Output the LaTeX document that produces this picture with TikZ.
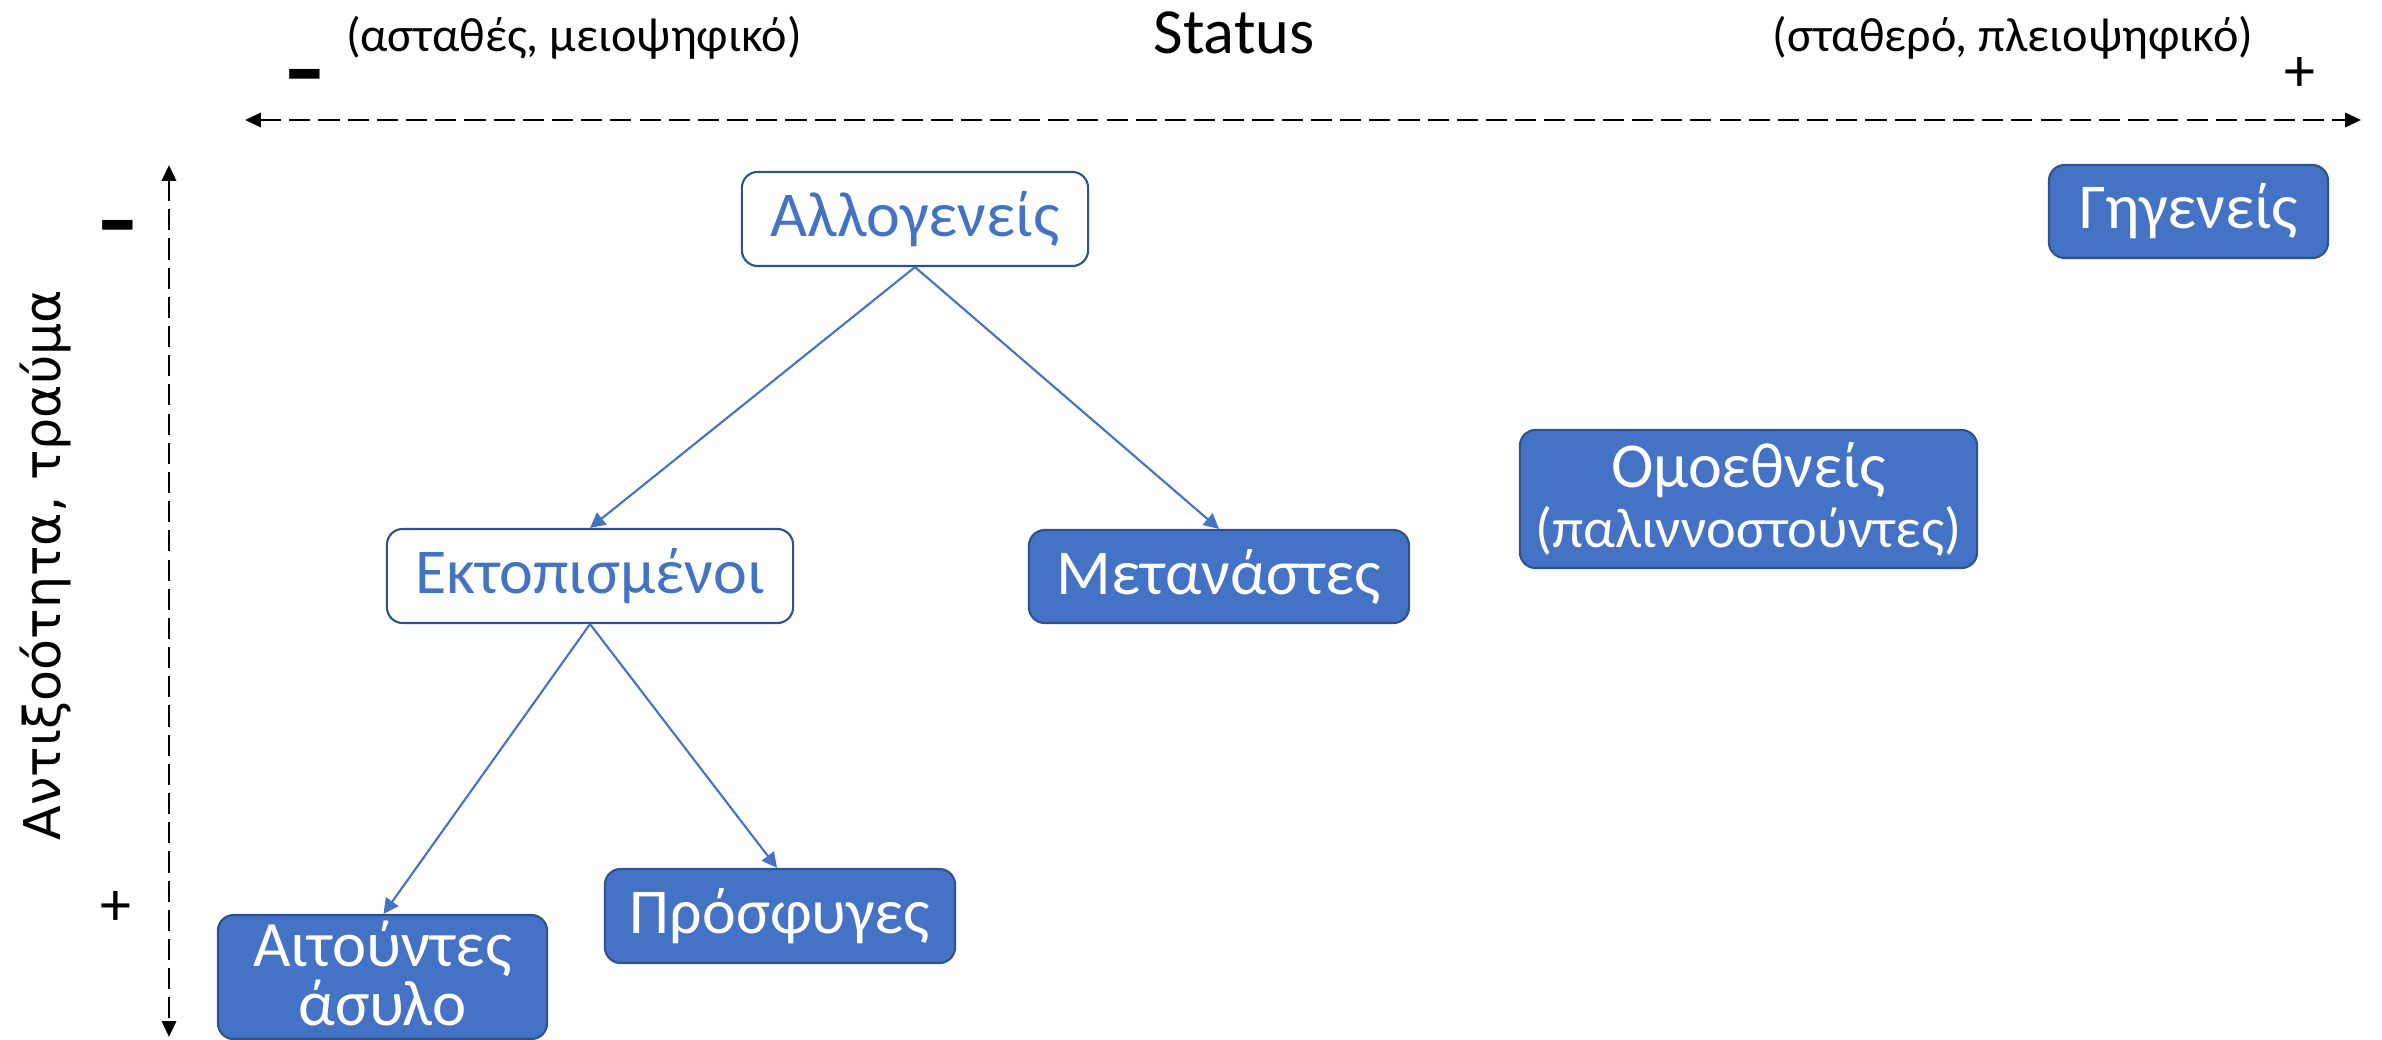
\documentclass[tikz,border=0pt]{standalone}
\usepackage{fontspec}
\setmainfont{Carlito}
\newfontfamily\vfont{DejaVu Sans}
\usetikzlibrary{arrows.meta}
\definecolor{bfill}{HTML}{4472C4}
\definecolor{bdraw}{HTML}{2F528F}
\tikzset{
  box/.style={draw=bdraw, line width=0.6pt, rounded corners=4.5pt, inner sep=0pt, align=center,
    font=\fontsize{18.2pt}{18pt}\selectfont},
  fbox/.style={box, fill=bfill, text=white},
  wbox/.style={box, fill=white, text=bfill},
  link/.style={draw=bfill, line width=0.6pt, -{Triangle[length=4.3pt,width=4.3pt]}},
  axis/.style={draw=black, line width=0.85pt, dash pattern=on 6pt off 2.3pt, {Triangle[length=4.5pt,width=4pt]}-{Triangle[length=4.5pt,width=4pt]}},
  big/.style={font=\fontsize{18.3pt}{20pt}\selectfont, inner sep=0pt},
  small/.style={font=\fontsize{13.7pt}{14pt}\selectfont, inner sep=0pt},
  minus/.style={font=\vfont\bfseries\fontsize{22pt}{24pt}\selectfont, inner sep=0pt, anchor=base},
  plus/.style={font=\fontsize{17.6pt}{20pt}\selectfont, inner sep=0pt, anchor=base},
}
\begin{document}
\begin{tikzpicture}[x=0.01cm, y=-0.01cm]
\useasboundingbox (0,0) rectangle (2382,1040);
% axes
\coordinate (hl) at (245,120);
\coordinate (hr) at (2361,120);
\coordinate (vt) at (169,165);
\coordinate (vb) at (169,1037);
\draw[axis] (hl) -- (hr);
\draw[axis] (vt) -- (vb);
% axis labels
\node[big] (status) at (1234,33) {Status};
\node[small] (lneg) at (574,38) {(ασταθές, μειοψηφικό)};
\node[small] (lpos) at (2013,38) {(σταθερό, πλειοψηφικό)};
\node[minus] (hminus) at (305,96) {–};
\node[plus] (hplus) at (2300,92) {+};
\node[minus] (vminus) at (118,247) {–};
\node[plus] (vplus) at (116,925) {+};
\node[rotate=90, inner sep=0pt, font=\vfont\fontsize{14.4pt}{16pt}\selectfont] (vlabel) at (46,565) {Αντιξοότητα, τραύμα};
% boxes
\node[wbox, minimum width=3.46cm, minimum height=0.94cm] (allo) at (915,219) {Αλλογενείς};
\node[fbox, minimum width=2.79cm, minimum height=0.93cm] (gig) at (2188.5,211.5) {Γηγενείς};
\node[wbox, minimum width=4.06cm, minimum height=0.94cm] (ekt) at (590,576) {Εκτοπισμένοι};
\node[fbox, minimum width=3.80cm, minimum height=0.93cm] (met) at (1219,576.5) {Μετανάστες};
\node[fbox, minimum width=4.57cm, minimum height=1.38cm] (omo) at (1748.5,499) {Ομοεθνείς\\[-1pt]{\fontsize{16pt}{17pt}\selectfont (παλιννοστούντες)}};
\node[fbox, minimum width=3.50cm, minimum height=0.94cm] (pro) at (780,916) {Πρόσφυγες};
\node[fbox, minimum width=3.29cm, minimum height=1.24cm, font=\fontsize{18.4pt}{17.4pt}\selectfont] (ait) at (382.5,977) {Αιτούντες\\\raisebox{2pt}{άσυλο}};
% links
\draw[link] (allo.south) -- (ekt.north);
\draw[link] (allo.south) -- (met.north);
\draw[link] (ekt.south) -- ([xshift=0.01cm]ait.north);
\draw[link] (ekt.south) -- ([xshift=-0.03cm]pro.north);
\end{tikzpicture}
\end{document}
